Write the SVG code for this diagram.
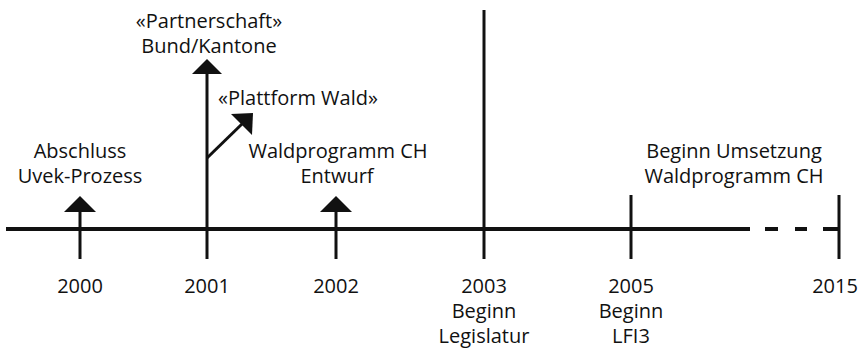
<svg xmlns="http://www.w3.org/2000/svg" width="859" height="349" viewBox="0 0 859 349">
<style>
text{font-family:"Open Sans","Liberation Sans",sans-serif;font-size:20px;fill:#111;text-anchor:middle}
.ln{stroke:#111;stroke-width:3;fill:none}
.ax{stroke:#111;stroke-width:4;fill:none}
.ah{fill:#111;stroke:none}
</style>
<rect width="859" height="349" fill="#fff"/>
<g id="connectors">
<line class="ax" x1="6" y1="229" x2="750" y2="229"/>
<line class="ax" x1="765" y1="229" x2="778" y2="229"/>
<line class="ax" x1="795" y1="229" x2="807" y2="229"/>
<line class="ax" x1="823" y1="229" x2="839" y2="229"/>
<line class="ln" x1="80" y1="259" x2="80" y2="205"/>
<polygon class="ah" points="80,196 96,212 64,212"/>
<line class="ln" x1="207" y1="259" x2="207" y2="70"/>
<polygon class="ah" points="207,59 222,74 192,74"/>
<line class="ln" x1="207" y1="158" x2="243" y2="123"/>
<polygon class="ah" points="253,113 252,135 231,114"/>
<line class="ln" x1="336" y1="259" x2="336" y2="205"/>
<polygon class="ah" points="336,196 352,212 320,212"/>
<line class="ln" x1="484" y1="10" x2="484" y2="259"/>
<line class="ln" x1="631" y1="195" x2="631" y2="259"/>
<line class="ln" x1="839" y1="195" x2="839" y2="259"/>
</g>
<g id="n2000"><text x="80" y="158">Abschluss</text><text x="80" y="183">Uvek-Prozess</text><text x="80" y="293">2000</text></g>
<g id="n2001"><text x="209" y="28">«Partnerschaft»</text><text x="209" y="53">Bund/Kantone</text><text x="298" y="105">«Plattform Wald»</text><text x="207" y="293">2001</text></g>
<g id="n2002"><text x="338" y="158">Waldprogramm CH</text><text x="337" y="183">Entwurf</text><text x="336" y="293">2002</text></g>
<g id="n2003"><text x="484" y="293">2003</text><text x="484" y="318">Beginn</text><text x="484" y="343">Legislatur</text></g>
<g id="n2005"><text x="631" y="293">2005</text><text x="631" y="318">Beginn</text><text x="631" y="343">LFI3</text></g>
<g id="n2015"><text x="734" y="158">Beginn Umsetzung</text><text x="734" y="183">Waldprogramm CH</text><text x="835" y="293">2015</text></g>
</svg>
